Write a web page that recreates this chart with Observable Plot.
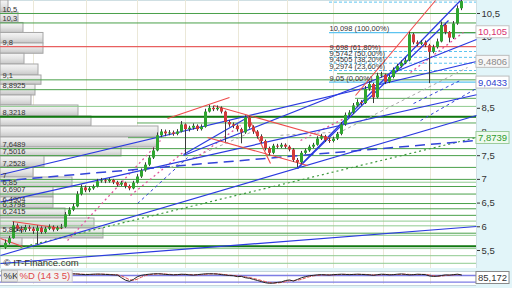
<!DOCTYPE html>
<html><head><meta charset="utf-8">
<script src="https://cdn.jsdelivr.net/npm/d3@7"></script>
<script src="https://cdn.jsdelivr.net/npm/@observablehq/plot@0.6"></script>
<style>
body{margin:0;background:#e2f5f9;}
#wrap{position:relative;width:512px;height:288px;overflow:hidden;font-family:"Liberation Sans Narrow","Liberation Sans",Arial,sans-serif;}
#wrap svg{position:absolute;left:0;}
.panel{position:absolute;background:#fff;}
</style></head>
<body><div id="wrap"><div class="panel" style="left:0;top:271px;width:476px;height:15px;border-top:1px solid #c5d6da;border-bottom:1px solid #c5d6da;box-sizing:border-box"></div></div>
<script>
// ---------- data ----------
const firstOpen = 5.55;
const close = [5.65,5.75,6.02,5.95,5.92,5.98,5.95,5.90,5.97,5.88,
5.95,5.99,5.93,5.97,5.99,6.25,6.35,6.42,6.68,6.82,
6.76,6.80,6.84,6.95,6.97,6.95,6.98,6.93,6.88,6.92,
6.85,6.80,6.92,7.05,7.18,7.30,7.45,7.60,7.92,8.00,
7.96,7.98,7.95,8.00,8.15,8.05,8.08,8.12,8.05,8.10,
8.42,8.50,8.47,8.50,8.42,8.20,8.15,8.12,8.05,7.98,
8.30,8.10,8.00,7.90,7.80,7.65,7.55,7.70,7.68,7.72,
7.68,7.62,7.40,7.35,7.55,7.60,7.68,7.72,7.85,7.90,
7.82,7.80,7.85,7.95,8.15,8.35,8.40,8.55,8.62,8.60,
8.90,9.00,8.72,9.18,9.20,9.05,9.15,9.30,9.38,9.45,
9.50,10.05,9.88,9.85,9.88,9.82,9.68,9.78,9.90,10.25,
10.10,9.98,10.28,10.60,10.75];
const high = [5.72,5.80,6.10,6.06,6.00,6.03,6.02,5.99,6.02,6.00,
5.99,6.04,6.02,6.01,6.05,6.30,6.40,6.48,6.74,6.88,
6.86,6.84,6.88,7.00,7.02,7.00,7.02,7.00,6.96,6.96,
6.94,6.88,6.96,7.10,7.22,7.35,7.50,7.66,7.98,8.05,
8.04,8.03,8.02,8.05,8.22,8.17,8.12,8.17,8.15,8.15,
8.48,8.56,8.54,8.55,8.53,8.44,8.24,8.19,8.15,8.08,
8.34,8.32,8.13,8.03,7.94,7.83,7.68,7.74,7.74,7.76,
7.75,7.71,7.65,7.44,7.59,7.64,7.72,7.76,7.90,7.95,
7.93,7.86,7.89,7.99,8.20,8.40,8.45,8.60,8.68,8.66,
8.96,9.06,9.03,9.24,9.26,9.22,9.20,9.35,9.43,9.50,
9.56,10.10,10.08,9.92,9.93,9.92,9.85,9.83,9.96,10.32,
10.28,10.12,10.33,10.66,10.80];
const low = [5.52,5.62,5.74,5.90,5.86,5.88,5.90,5.84,5.62,5.84,
5.85,5.92,5.89,5.90,5.94,5.97,6.22,6.32,6.40,6.65,
6.72,6.72,6.77,6.82,6.92,6.91,6.92,6.89,6.84,6.85,
6.80,6.76,6.78,6.90,7.02,7.15,7.27,7.42,7.58,7.88,
7.90,7.92,7.91,7.92,7.98,7.52,8.00,8.04,8.01,8.02,
8.08,8.40,8.43,8.44,8.38,7.78,8.10,8.07,8.00,7.75,
7.95,8.06,7.95,7.85,7.75,7.60,7.50,7.52,7.64,7.65,
7.64,7.58,7.36,7.25,7.32,7.52,7.57,7.65,7.70,7.82,
7.78,7.76,7.77,7.82,7.92,8.12,8.31,8.37,8.52,8.55,
8.58,8.86,8.60,8.70,9.14,9.00,9.02,9.12,9.27,9.35,
9.42,9.48,9.84,9.80,9.82,9.78,9.02,9.65,9.75,9.88,
10.05,9.88,9.95,10.25,10.56];
const stochK = [null,null,null,null,null,null,null,null,null,null,null,null,null,null,
92,94,95,95,93,90,88,90,92,93,92,90,88,86,84,
60,38,28,45,
70,82,88,92,95,
96,94,90,88,86,88,92,90,86,84,88,92,95,96,95,93,88,84,80,78,
70,72,60,55,45,
35,25,15,10,12,
18,22,35,40,30,
45,60,70,78,82,86,88,
86,84,88,90,92,90,88,90,92,90,88,86,82,88,92,90,86,88,92,94,90,86,88,92,90,88,
76,72,74,80,86,
84,88,92,85.172];
const stochBands = [20, 80];

const yTicks = [10.5, 10, 8.5, 8, 7.5, 7, 6.5, 6, 5.5];
const gridIdx = [7, 20.25, 33, 45, 58.25, 70.5, 82, 94.5, 106.25];

// horizontal support / resistance levels
const levelValues = [10.5, 10.3, 9.1, 8.8925, 8.3218, 7.6489, 7.5016, 7.2528, 7, 6.85, 6.6907, 6.4904, 6.3798, 6.2415, 5.8647];
const thinLevels = [8.54, 6.94, 6.12, 6.02, 5.82, 5.54, 5.39, 5.23];
const thickLevels = [8.3218, 5.59];
const redLevel = 9.8;
const partialLevels = [{v: 10.098, from: 101}, {v: 9.23, from: 83}, {v: 8.71, from: 87.5}, {v: 8.19, from: 33}, {v: 7.88, from: 30.75}];

// Fibonacci retracement
const fibValues = [10.098, 9.698, 9.5742, 9.4505, 9.2974, 9.05];
const fibPct = ["100,00%", "61,80%", "50,00%", "38,20%", "23,60%", "0,00%"];
const fibTop = 10.74;
const fibStart = 81;

// volume profile (price bins and volume)
const volEdges = [10.774,10.521,10.30,10.089,9.867,9.65,9.424,9.192,8.996,8.770,8.559,8.327,8.116,7.884,7.673,7.483,7.251,7.04,6.829,6.618,6.386,6.175,5.964,5.753,5.584];
const volumes = [8,18,23,43,43,24,38,41,35,31,78,91,158,158,121,44,33,72,53,53,65,94,103,22];

// trend lines [i1, p1, i2, p2]
const blueTrend = [[-1.25,7.097,117.75,9.487],[-1.25,6.519,117.75,8.785],[-1.25,5.395,117.75,8.348],[-1.25,5.226,117.75,6.006],
  [44.5,7.504,117.75,9.951],[73,7.23,113.75,10.774],[73,7.23,110.75,10.352],[44.5,7.525,60.5,8.306]];
const blueLongDash = [[-1.25,6.966,117.75,7.821]];
const blueShortDash = [[33,6.49,45.5,7.46],[102,8.6,113.75,9.09],[103.75,8.24,117.75,8.92]];
const redPattern = [[40.5,8.285,56,8.728],[52,8.559,81.25,7.863],[50.5,7.884,75.5,7.293],[60.5,8.348,66.25,7.335],
  [87.5,8.77,107.5,10.774],[1.75,6.112,14.25,5.964],[-1.25,5.753,4.25,5.584]];
const pinkDotted = [[15.5,5.71,38.75,7.82],[31.25,6.66,45,7.61],[47.5,7.44,58.75,8.14],[73.75,7.82,86.25,8.35],[101.25,9.255,114.5,10.10]];
const greyDashed = [[41.25,7.25,61.25,7.99],[68.75,7.93,81.25,7.99],[83,7.97,115.5,9.36]];
const greenDotted = [[3.75,5.563,117.75,7.884]];

// right-side price boxes
const boxValues = [10.105, 9.4806, 9.0433, 7.8739];
const boxColors = ["#d8336f", "#8a8a8a", "#2f3fd0", "#2e9a2e"];
const stochLast = 85.172;
const tagK = "%K";
const tagD = "%D (14 3 5)";
const source = "© IT-Finance.com";

// ---------- helpers ----------
const FONT = '"Liberation Sans Narrow", "Liberation Sans", Arial, sans-serif';
const fmt = v => String(v).replace(".", ",");
const xDomain = [-1.25, 117.75];
const yDomain = [5.12, 10.774];
const seg = a => ({x1: a[0], y1: a[1], x2: a[2], y2: a[3]});

const candles = close.map((c, i) => ({i, o: i ? close[i - 1] : firstOpen, c, h: high[i], l: low[i]}));
const volRows = volumes.map((v, k) => ({vol: v, hi: volEdges[k], lo: volEdges[k + 1]}));
const levelRows = levelValues.map(v => ({v, label: fmt(v)}));
const fibRows = fibValues.map((v, k) => ({v, label: `${fmt(v)} (${fibPct[k]})`}));
const stochRows = stochK.map((k, i) => ({i, k}));
const wrap = document.getElementById("wrap");

// ---------- volume profile layer (bottom) ----------
const volPlot = Plot.plot({
  width: 512, height: 268, marginLeft: 0, marginRight: 36, marginTop: 0, marginBottom: 0,
  style: {background: "none", fontFamily: FONT},
  x: {domain: [0, 476], axis: null},
  y: {domain: yDomain, axis: null},
  marks: [
    Plot.frame({fill: "white", stroke: "#cfdfe3"}),
    Plot.ruleX(gridIdx.map(g => (g + 1.25) * 4), {stroke: "#ebe8d8"}),
    Plot.rect(volRows, {x1: 0, x2: "vol", y1: "lo", y2: "hi", fill: "url(#volgrad)", stroke: "#a6a6a6", strokeWidth: 1})
  ]
});
volPlot.style.top = "0px";
wrap.appendChild(volPlot);
{
  const ns = "http://www.w3.org/2000/svg";
  const defs = document.createElementNS(ns, "defs");
  defs.innerHTML = '<linearGradient id="volgrad" x1="0" y1="0" x2="0" y2="1"><stop offset="0" stop-color="#f6f6f6"/><stop offset="0.5" stop-color="#e3e3e3"/><stop offset="1" stop-color="#c6c6c6"/></linearGradient>';
  volPlot.insertBefore(defs, volPlot.firstChild);
}

// ---------- main price layer ----------
const main = Plot.plot({
  width: 512, height: 268, marginLeft: 0, marginRight: 36, marginTop: 0, marginBottom: 0,
  style: {background: "none", fontFamily: FONT, fontSize: "9.5px", color: "#333"},
  x: {domain: xDomain, axis: null},
  y: {domain: yDomain, axis: "right", ticks: yTicks, tickFormat: fmt, tickSize: 3, tickPadding: 2, label: null},
  marks: [
    Plot.ruleY(thinLevels, {stroke: "#8fcb8f", strokeWidth: 1}),
    Plot.ruleY(levelRows, {y: "v", stroke: "#4aa04a", strokeWidth: 1}),
    Plot.ruleY(thickLevels, {stroke: "#127812", strokeWidth: 2}),
    Plot.ruleY(partialLevels, {y: "v", x1: "from", x2: xDomain[1], stroke: "#5aa85a", strokeWidth: 1}),
    Plot.ruleY([redLevel], {stroke: "#e86060", strokeWidth: 1.2}),
    Plot.ruleY([fibValues[0], fibValues[5]], {x1: fibStart, x2: xDomain[1], stroke: "#5cc4f0", strokeWidth: 1.2}),
    Plot.ruleY(fibValues.slice(1, 5).concat([fibTop]), {x1: fibStart, x2: xDomain[1], stroke: "#5cc4f0", strokeDasharray: "3,2", strokeWidth: 1}),
    Plot.ruleY([partialLevels[0]], {y: "v", x1: 101, x2: xDomain[1], stroke: "#4aa04a", strokeWidth: 1.2}),
    Plot.link(greenDotted.map(seg), {x1: "x1", y1: "y1", x2: "x2", y2: "y2", stroke: "#3f9a3f", strokeDasharray: "2,3", strokeWidth: 1.2}),
    Plot.link(greyDashed.map(seg), {x1: "x1", y1: "y1", x2: "x2", y2: "y2", stroke: "#a8a8a8", strokeDasharray: "3,3", strokeWidth: 1}),
    Plot.link(pinkDotted.map(seg), {x1: "x1", y1: "y1", x2: "x2", y2: "y2", stroke: "#e2559c", strokeDasharray: "2,3", strokeWidth: 1.3}),
    Plot.link(blueShortDash.map(seg), {x1: "x1", y1: "y1", x2: "x2", y2: "y2", stroke: "#3344d8", strokeDasharray: "3,3", strokeWidth: 1}),
    Plot.link(blueLongDash.map(seg), {x1: "x1", y1: "y1", x2: "x2", y2: "y2", stroke: "#3344d8", strokeDasharray: "10,6", strokeWidth: 1.5}),
    Plot.link(blueTrend.map(seg), {x1: "x1", y1: "y1", x2: "x2", y2: "y2", stroke: "#2b3ae0", strokeWidth: 1.2}),
    Plot.link(redPattern.map(seg), {x1: "x1", y1: "y1", x2: "x2", y2: "y2", stroke: "#ee4a4a", strokeWidth: 1.1}),
    Plot.ruleX(candles, {x: "i", y1: "l", y2: "h", stroke: "#3a3a3a", strokeWidth: 1}),
    Plot.ruleX(candles, {x: "i", y1: "o", y2: "c", stroke: d => d.c >= d.o ? "#2fa52f" : "#d23a3a", strokeWidth: 3}),
    Plot.text(levelRows.concat([{v: redLevel, label: fmt(redLevel)}]), {y: "v", text: "label", frameAnchor: "left", dx: 2, dy: -4, textAnchor: "start", fontSize: 7.5, fill: "#333"}),
    Plot.text(fibRows, {x: fibStart, y: "v", text: "label", dx: 0, dy: -4, textAnchor: "start", fontSize: 7.5, fill: "#333"}),
    Plot.text([source], {text: d => d, frameAnchor: "bottom-left", dx: 3, dy: -3, textAnchor: "start", fontSize: 9.5, fill: "#333"}),
    Plot.text(boxValues, {x: xDomain[1], y: d => d, text: d => fmt(d), dx: 16, fill: (d, k) => boxColors[k], fontSize: 9.5})
  ]
});
main.style.top = "0px";
wrap.appendChild(main);

// ---------- stochastic panel ----------
const stoch = Plot.plot({
  width: 512, height: 20, marginLeft: 0, marginRight: 36, marginTop: 4.8, marginBottom: 4.1,
  style: {background: "none", fontFamily: FONT, fontSize: "9px", overflow: "visible"},
  x: {domain: xDomain, axis: null},
  y: {domain: [0, 100], axis: null},
  marks: [
    Plot.ruleX(gridIdx, {y1: 0, y2: 100, stroke: "#ebe8d8"}),
    Plot.ruleY(stochBands, {stroke: "#7d7de4", strokeWidth: 1.3}),
    Plot.line(stochRows, Plot.windowY({k: 3, anchor: "end"}, {x: "i", y: "k", stroke: "#e25050", strokeDasharray: "3,2", strokeWidth: 1})),
    Plot.line(stochRows, {x: "i", y: "k", stroke: "#222", strokeWidth: 1}),
    Plot.text([tagK], {text: d => d, frameAnchor: "left", dx: 3, dy: -2.4, textAnchor: "start", fontSize: 9.5, fill: "#333"}),
    Plot.text([tagD], {text: d => d, frameAnchor: "left", dx: 19, dy: -2.4, textAnchor: "start", fontSize: 9.5, fill: "#e04848"}),
    Plot.text([stochLast], {x: xDomain[1], y: d => d, text: d => fmt(d), dx: 16, dy: 3, fontSize: 9.5, fill: "#333"})
  ]
});
stoch.style.top = "268px";
wrap.appendChild(stoch);

// ---------- label boxes (drawn behind the matching texts) ----------
function boxes(svg, items) {
  const ns = "http://www.w3.org/2000/svg";
  svg.querySelectorAll("text").forEach(t => {
    const it = items.find(d => d.text === t.textContent);
    if (!it) return;
    const b = t.getBBox();
    const r = document.createElementNS(ns, "rect");
    r.setAttribute("x", b.x - 2); r.setAttribute("y", b.y - 0.5);
    r.setAttribute("width", b.width + 4); r.setAttribute("height", b.height + 1);
    const tr = t.getAttribute("transform"); if (tr) r.setAttribute("transform", tr);
    r.setAttribute("fill", it.fill); r.setAttribute("stroke", it.stroke); r.setAttribute("stroke-width", 1);
    t.parentNode.insertBefore(r, t);
  });
}
const boxFills = ["#ffffff", "#f7f7f7", "#ffffff", "#eefaee"];
const boxStrokes = ["#c4c4c4", "#bdbdbd", "#bdbdbd", "#9ccc9c"];
boxes(main, boxValues.map((v, k) => ({text: fmt(v), fill: boxFills[k], stroke: boxStrokes[k]})));
boxes(stoch, [
  {text: tagK, fill: "#e4e4e4", stroke: "#a8a8a8"},
  {text: tagD, fill: "#f2f2f2", stroke: "#c8c8c8"},
  {text: fmt(stochLast), fill: "#ffffff", stroke: "#888888"}
]);
</script>
</body></html>
